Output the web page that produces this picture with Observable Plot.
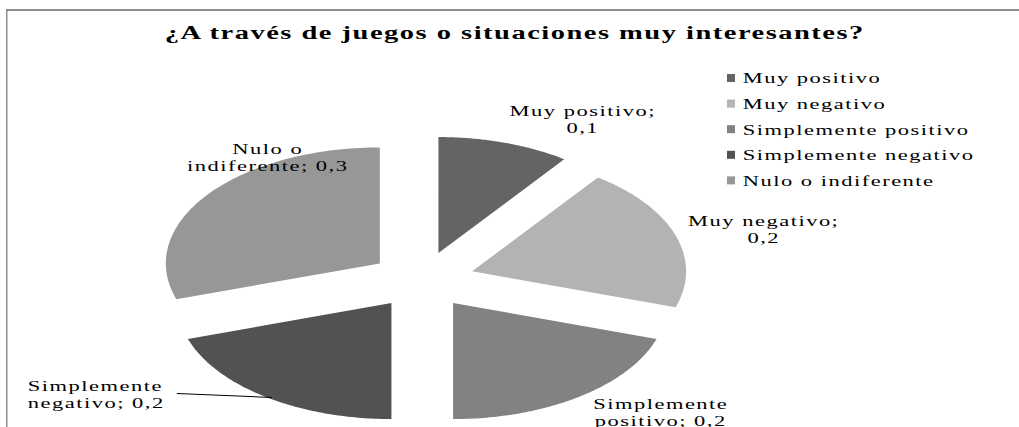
<!DOCTYPE html>
<html>
<head>
<meta charset="utf-8">
<script src="https://cdn.jsdelivr.net/npm/d3@7"></script>
<script src="https://cdn.jsdelivr.net/npm/@observablehq/plot@0.6"></script>
<style>
  html, body { margin: 0; padding: 0; background: #fff; overflow: hidden; }
  #wrap { position: relative; height: 427px; transform-origin: 0 0; }
  #border { position: absolute; left: 4px; top: 9px; right: -2px; bottom: -4px;
            border-top: 2px solid #8e8e8e; border-left: 1.4px solid #8e8e8e; }
  #chart { position: absolute; left: 0; top: 0; }
  #chart svg, #chart text { font-family: "Liberation Serif", serif !important; letter-spacing: 1px; }
</style>
</head>
<body>
<div id="wrap"><div id="border"></div><div id="chart"></div></div>
<script>
// ---- data ----
const title = "¿A través de juegos o situaciones muy interesantes?";
const categories = ["Muy positivo", "Muy negativo", "Simplemente positivo", "Simplemente negativo", "Nulo o indiferente"];
const values = [0.1, 0.2, 0.2, 0.2, 0.3];
const valueLabels = ["0,1", "0,2", "0,2", "0,2", "0,3"];
const labelTexts = ["Muy positivo;\n0,1", "Muy negativo;\n0,2", "Simplemente\npositivo; 0,2", "Simplemente\nnegativo; 0,2", "Nulo o\nindiferente; 0,3"];
const colors = ["#646464", "#b3b3b3", "#828282", "#525252", "#979797"];

// ---- layout (pixels of the final picture) ----
const FULL_W = 1019, H = 427;
const STRETCH = 1.5;                     // horizontal stretch of the whole figure
const W = FULL_W / STRETCH;
const CX = 421.5, CY = 279.6, RX = 214, RY = 116, EXPLODE = 0.245;
const toX = px => (px - CX) / RX;
const toY = py => (CY - py) / RY;
const labelPos = [
  {px: 582, py: 119, anchor: "middle"},
  {px: 763, py: 229, anchor: "middle"},
  {px: 660, py: 412, anchor: "middle"},
  {px: 27,  py: 394, anchor: "start"},
  {px: 267, py: 157, anchor: "middle"}
];
const LEGEND = {sq0: 727, sq1: 735, tx: 742, y0: 78, step: 25.6, half: 4};
const FONT = "Liberation Serif";

// ---- slices (geometry from the values) ----
const total = d3.sum(values);
const slices = [];
let acc = 0;
categories.forEach((name, i) => {
  const a0 = 2 * Math.PI * acc / total;
  acc += values[i];
  const a1 = 2 * Math.PI * acc / total;
  const mid = (a0 + a1) / 2;
  const ox = EXPLODE * Math.sin(mid), oy = EXPLODE * Math.cos(mid);
  slices.push({name, x: ox, y: oy});
  const n = 80;
  for (let k = 0; k <= n; k++) {
    const t = a0 + (a1 - a0) * k / n;
    slices.push({name, x: ox + Math.sin(t), y: oy + Math.cos(t)});
  }
  slices.push({name, x: ox, y: oy});
});

const labels = categories.map((name, i) => ({
  name, text: labelTexts[i],
  x: toX(labelPos[i].px), y: toY(labelPos[i].py), anchor: labelPos[i].anchor
}));

const legend = categories.map((name, i) => {
  const yc = LEGEND.y0 + i * LEGEND.step;
  return {name, x1: toX(LEGEND.sq0), x2: toX(LEGEND.sq1),
          y1: toY(yc - LEGEND.half), y2: toY(yc + LEGEND.half),
          tx: toX(LEGEND.tx), ty: toY(yc)};
});

const leader = [{x1: toX(176), y1: toY(393), x2: toX(271), y2: toY(397)}];

const plot = Plot.plot({
  width: W, height: H,
  margin: 0,
  style: {fontFamily: FONT, background: "transparent", overflow: "visible"},
  x: {axis: null, domain: [toX(0), toX(FULL_W)]},
  y: {axis: null, domain: [toY(H), toY(0)]},
  color: {domain: categories, range: colors},
  marks: [
    Plot.line(slices, {x: "x", y: "y", z: "name", fill: "name", stroke: null, curve: "linear"}),
    Plot.text([title], {x: () => toX(514), y: () => toY(32), text: d => d, fontSize: 19, fontWeight: "bold", fill: "#000", fontFamily: FONT}),
    Plot.text(labels.filter(d => d.anchor === "middle"), {x: "x", y: "y", text: "text", textAnchor: "middle", fontSize: 15, lineHeight: 1.13, fill: "#000", fontFamily: FONT}),
    Plot.text(labels.filter(d => d.anchor === "start"), {x: "x", y: "y", text: "text", textAnchor: "start", fontSize: 15, lineHeight: 1.13, fill: "#000", fontFamily: FONT}),
    Plot.link(leader, {x1: "x1", y1: "y1", x2: "x2", y2: "y2", stroke: "#000", strokeWidth: 1}),
    Plot.rect(legend, {x1: "x1", x2: "x2", y1: "y1", y2: "y2", fill: "name"}),
    Plot.text(legend, {x: "tx", y: "ty", text: "name", textAnchor: "start", fontSize: 15, fill: "#000", fontFamily: FONT})
  ]
});
document.getElementById("chart").appendChild(plot);
const wrap = document.getElementById("wrap");
wrap.style.width = W + "px";
wrap.style.transform = `scaleX(${STRETCH})`;
</script>
</body>
</html>
